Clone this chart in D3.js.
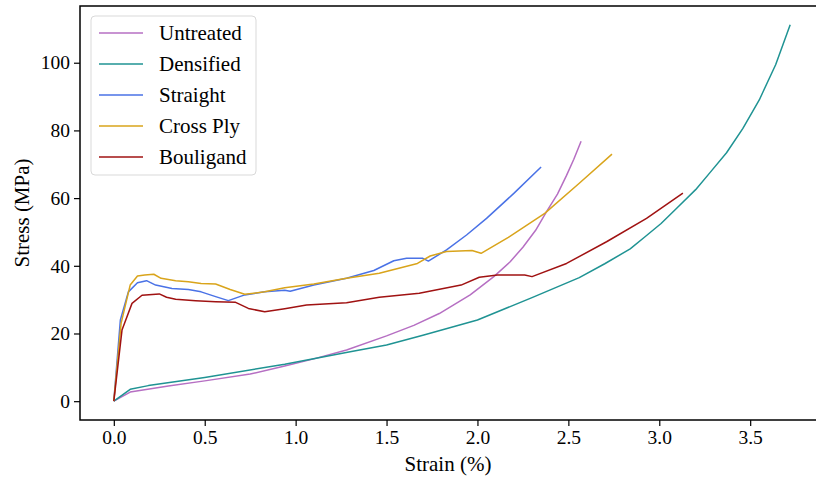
<!DOCTYPE html>
<html>
<head>
<meta charset="utf-8">
<script src="https://cdn.jsdelivr.net/npm/d3@7"></script>
<style>
  html, body { margin: 0; padding: 0; background: #fff; }
  svg { display: block; }
  .tick line { stroke: #000; stroke-width: 1.2; }
  .domain { display: none; }
</style>
</head>
<body>
<svg id="chart" width="816" height="480"></svg>
<script>
// strain (%) / stress (MPa) pairs
const untreatedStrain = [0, 0.09, 0.3, 0.5, 0.75, 0.94, 1.1, 1.28, 1.5, 1.65, 1.79, 1.96, 2.09, 2.18, 2.25, 2.32, 2.38, 2.44, 2.49, 2.53, 2.57];
const untreatedStress = [0, 2.7, 4.5, 6.0, 8.0, 10.4, 12.5, 15.1, 19.3, 22.4, 25.9, 31.4, 36.8, 41.2, 45.5, 50.5, 56, 61.2, 66.7, 71.5, 76.8];

const densifiedStrain = [0, 0.09, 0.19, 0.5, 0.94, 1.3, 1.5, 1.7, 2.0, 2.3, 2.56, 2.7, 2.84, 2.92, 3.01, 3.1, 3.2, 3.28, 3.37, 3.46, 3.55, 3.64, 3.72];
const densifiedStress = [0, 3.5, 4.6, 7.0, 10.9, 14.6, 16.6, 19.5, 24, 30.6, 36.5, 40.6, 45, 48.5, 52.5, 57.2, 62.5, 67.6, 73.4, 80.6, 89, 99.4, 111.2];

const straightStrain = [0, 0.036, 0.08, 0.13, 0.18, 0.23, 0.32, 0.41, 0.48, 0.56, 0.63, 0.72, 0.83, 0.94, 0.97, 1.10, 1.28, 1.43, 1.54, 1.61, 1.70, 1.73, 1.83, 1.94, 2.05, 2.20, 2.35];
const straightStress = [0, 24, 32.3, 35, 35.6, 34.3, 33.3, 33, 32.3, 30.9, 29.7, 31.4, 32.3, 32.8, 32.5, 34.3, 36.3, 38.6, 41.5, 42.2, 42.2, 41.4, 44.7, 49.1, 54, 61.4, 69.2];

const crossPlyStrain = [0, 0.04, 0.09, 0.13, 0.17, 0.22, 0.26, 0.34, 0.41, 0.48, 0.56, 0.64, 0.72, 0.83, 0.94, 1.10, 1.28, 1.46, 1.67, 1.74, 1.83, 1.97, 2.02, 2.17, 2.37, 2.56, 2.74];
const crossPlyStress = [0, 23, 34.3, 37, 37.3, 37.5, 36.3, 35.6, 35.3, 34.8, 34.6, 33, 31.6, 32.3, 33.5, 34.6, 36.3, 37.8, 40.7, 42.9, 44.2, 44.5, 43.7, 48.4, 55.5, 64.4, 73];

const bouligandStrain = [0, 0.045, 0.1, 0.155, 0.25, 0.29, 0.34, 0.45, 0.56, 0.67, 0.74, 0.83, 0.94, 1.06, 1.28, 1.46, 1.68, 1.91, 2.01, 2.11, 2.26, 2.30, 2.49, 2.71, 2.93, 3.13];
const bouligandStress = [0, 21, 28.9, 31.3, 31.7, 30.7, 30.1, 29.7, 29.4, 29.2, 27.4, 26.4, 27.3, 28.4, 29.1, 30.7, 31.9, 34.3, 36.6, 37.3, 37.3, 36.8, 40.7, 47.1, 54, 61.5];

const seriesNames = ['Untreated', 'Densified', 'Straight', 'Cross Ply', 'Bouligand'];
const seriesColors = ['#b66fc3', '#1f9393', '#4a72e6', '#d9a41b', '#a01212'];
const xTicks = [0, 0.5, 1.0, 1.5, 2.0, 2.5, 3.0, 3.5];
const yTicks = [0, 20, 40, 60, 80, 100];

const strains = [untreatedStrain, densifiedStrain, straightStrain, crossPlyStrain, bouligandStrain];
const stresses = [untreatedStress, densifiedStress, straightStress, crossPlyStress, bouligandStress];

const series = seriesNames.map((name, i) => ({
  name,
  color: seriesColors[i],
  values: strains[i].map((s, j) => ({ x: s, y: stresses[i][j] }))
}));

const serif = '"Liberation Serif", "Times New Roman", "DejaVu Serif", serif';

const svg = d3.select('#chart');
const plotLeft = 80, plotRight = 824, plotTop = 6, plotBottom = 420;

// matplotlib-style 5% margins around the data range
const xMax = d3.max(series, d => d3.max(d.values, v => v.x));
const yMax = d3.max(series, d => d3.max(d.values, v => v.y));
const x = d3.scaleLinear().domain([-0.05 * xMax, 1.05 * xMax]).range([plotLeft, plotRight]);
const y = d3.scaleLinear().domain([-0.05 * yMax, 1.05 * yMax]).range([plotBottom, plotTop]);

svg.append('defs').append('clipPath').attr('id', 'plot-clip')
  .append('rect').attr('x', plotLeft).attr('y', plotTop)
  .attr('width', plotRight - plotLeft).attr('height', plotBottom - plotTop);

const line = d3.line().x(d => x(d.x)).y(d => y(d.y));

svg.append('g').attr('clip-path', 'url(#plot-clip)')
  .selectAll('path')
  .data(series)
  .join('path')
  .attr('d', d => line(d.values))
  .attr('fill', 'none')
  .attr('stroke', d => d.color)
  .attr('stroke-width', 1.5)
  .attr('stroke-linejoin', 'round');

// axes
svg.append('g')
  .attr('transform', `translate(0,${plotBottom})`)
  .call(d3.axisBottom(x).tickValues(xTicks).tickFormat(d3.format('.1f')).tickSize(6).tickPadding(4));

svg.append('g')
  .attr('transform', `translate(${plotLeft},0)`)
  .call(d3.axisLeft(y).tickValues(yTicks).tickFormat(d3.format('d')).tickSize(6).tickPadding(4));

svg.selectAll('.tick text')
  .style('font-family', serif)
  .style('font-size', '19.5px')
  .attr('fill', '#000');

// spines (right one falls outside the picture)
svg.append('rect')
  .attr('x', plotLeft).attr('y', plotTop)
  .attr('width', plotRight - plotLeft).attr('height', plotBottom - plotTop)
  .attr('fill', 'none').attr('stroke', '#000').attr('stroke-width', 1.5);

svg.append('text')
  .attr('x', (plotLeft + plotRight) / 2 - 4).attr('y', 471)
  .attr('text-anchor', 'middle')
  .style('font-family', serif).style('font-size', '21px')
  .text('Strain (%)');

svg.append('text')
  .attr('transform', `translate(29,${(plotTop + plotBottom) / 2}) rotate(-90)`)
  .attr('text-anchor', 'middle')
  .style('font-family', serif).style('font-size', '21px')
  .text('Stress (MPa)');

// legend
const legend = svg.append('g').attr('transform', 'translate(91,16)');
legend.append('rect')
  .attr('width', 165).attr('height', 159).attr('rx', 4)
  .attr('fill', '#fff').attr('fill-opacity', 0.8)
  .attr('stroke', '#d9d9d9').attr('stroke-width', 1);

const item = legend.selectAll('g.item')
  .data(series)
  .join('g')
  .attr('class', 'item')
  .attr('transform', (d, i) => `translate(0,${17 + i * 31})`);

item.append('line')
  .attr('x1', 8).attr('x2', 52)
  .attr('stroke', d => d.color).attr('stroke-width', 1.5);

item.append('text')
  .attr('x', 68).attr('dy', '0.35em')
  .style('font-family', serif).style('font-size', '21px')
  .text(d => d.name);
</script>
</body>
</html>
